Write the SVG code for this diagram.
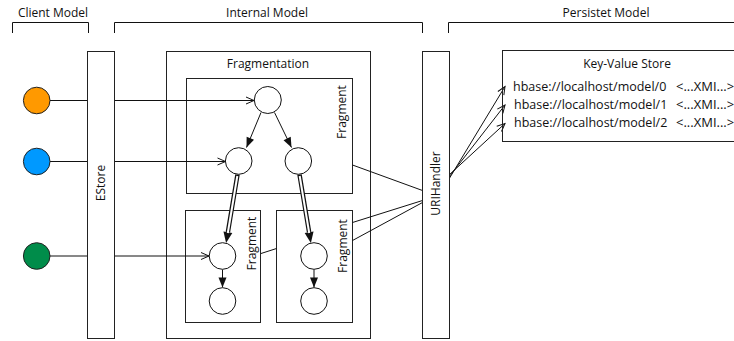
<svg xmlns="http://www.w3.org/2000/svg" width="734" height="341" viewBox="0 0 734 341">
<style>
text{font-family:"Open Sans","DejaVu Sans",sans-serif;font-size:12px;fill:#111}
.c{text-anchor:middle}
.kv{font-size:12.5px}
.xmi{font-size:13px}
.box{fill:none;stroke:#222;stroke-width:1}
.wbox{fill:#fff;stroke:#222;stroke-width:1}
.node{fill:#fff;stroke:#111;stroke-width:1}
.ln{fill:none;stroke:#111;stroke-width:1}
.dbl{fill:none;stroke:#111;stroke-width:4.5}
.dblw{fill:none;stroke:#fff;stroke-width:2}
.br{fill:none;stroke:#111;stroke-width:1}
</style>
<defs>
<marker id="open" markerUnits="userSpaceOnUse" markerWidth="10" markerHeight="10" refX="8" refY="3.5" orient="auto" overflow="visible">
<path d="M0,0 L8,3.5 L0,7" fill="none" stroke="#111" stroke-width="1"/>
</marker>
<marker id="fill" markerUnits="userSpaceOnUse" markerWidth="12" markerHeight="10" refX="10" refY="4" orient="auto" overflow="visible">
<path d="M0,0 L10,4 L0,8 z" fill="#111"/>
</marker>
<marker id="fillb" markerUnits="userSpaceOnUse" markerWidth="12" markerHeight="10" refX="0" refY="4.5" orient="auto" overflow="visible">
<path d="M0,0 L11,4.5 L0,9 z" fill="#111"/>
</marker>
</defs>
<rect width="734" height="341" fill="#fff"/>

<g id="brackets">
<path class="br" d="M12.5,33 V22.5 H88.5 V33"/>
<path class="br" d="M114.5,33 V22.5 H422.5 V33"/>
<path class="br" d="M448.5,33 V22.5 H740"/>
<text class="c" x="53" y="16.5">Client Model</text>
<text class="c" x="267" y="16.5">Internal Model</text>
<text class="c" x="606" y="16.5">Persistet Model</text>
</g>

<g id="fragmentation">
<rect class="box" x="166.5" y="51.5" width="204" height="287"/>
<text class="c" x="268" y="67.5">Fragmentation</text>
</g>
<g id="fragment-top">
<rect class="box" x="186.5" y="78.5" width="166" height="115"/>
<text class="c" transform="rotate(-90 342 112)" x="342" y="116">Fragment</text>
</g>
<g id="fragment-bl">
<rect class="box" x="185.5" y="210.5" width="75" height="112"/>
<text class="c" transform="rotate(-90 251.5 243.5)" x="251.5" y="247.5">Fragment</text>
</g>
<g id="fragment-br">
<rect class="box" x="276.5" y="210.5" width="76" height="112"/>
<text class="c" transform="rotate(-90 342.5 246)" x="342.5" y="250">Fragment</text>
</g>

<g id="connectors">
<line class="ln" x1="50" y1="100.5" x2="254" y2="100.5" marker-end="url(#open)"/>
<line class="ln" x1="50" y1="161.5" x2="225.5" y2="161.5" marker-end="url(#open)"/>
<line class="ln" x1="50" y1="256" x2="209" y2="256" marker-end="url(#open)"/>
<line class="ln" x1="261" y1="112.5" x2="246.5" y2="147.5" marker-end="url(#fill)"/>
<line class="ln" x1="274.5" y1="112.5" x2="291.5" y2="147.5" marker-end="url(#fill)"/>
<line class="dbl" x1="237.5" y1="174.5" x2="227.9" y2="232.2" marker-end="url(#fillb)"/>
<line class="dblw" x1="237.3" y1="176" x2="227.8" y2="233"/>
<line class="dbl" x1="299.5" y1="174.5" x2="309.1" y2="232.2" marker-end="url(#fillb)"/>
<line class="dblw" x1="299.7" y1="176" x2="309.2" y2="233"/>
<line class="ln" x1="222.5" y1="269.5" x2="222.5" y2="287.5" marker-end="url(#fill)"/>
<line class="ln" x1="314" y1="269.5" x2="314" y2="287.5" marker-end="url(#fill)"/>
<line class="ln" x1="261" y1="253.5" x2="276.5" y2="248.5"/>
<line class="ln" x1="352.5" y1="165" x2="422.5" y2="190.5"/>
<line class="ln" x1="352.5" y1="222.5" x2="422.5" y2="200.5"/>
<line class="ln" x1="352.5" y1="240.5" x2="422.5" y2="202.5"/>
<line class="ln" x1="449" y1="179" x2="505" y2="86.5" marker-end="url(#open)"/>
<line class="ln" x1="449" y1="177" x2="505" y2="105" marker-end="url(#open)"/>
<line class="ln" x1="449" y1="175" x2="505" y2="123.5" marker-end="url(#open)"/>
</g>

<g id="orange"><circle cx="36.7" cy="100.5" r="13.3" fill="#FF9900" stroke="#222" stroke-width="1"/></g>
<g id="blue"><circle cx="36.7" cy="161.5" r="13.3" fill="#0099FF" stroke="#222" stroke-width="1"/></g>
<g id="green"><circle cx="36.7" cy="256" r="13.3" fill="#008C4A" stroke="#222" stroke-width="1"/></g>

<g id="estore">
<rect class="wbox" x="87.5" y="51.5" width="27" height="287"/>
<text class="c" transform="rotate(-90 100.7 183)" x="100.7" y="187.3" font-size="12.5">EStore</text>
</g>
<g id="urihandler">
<rect class="wbox" x="422.5" y="51.5" width="27" height="287"/>
<text class="c" transform="rotate(-90 436 183.5)" x="436" y="187.8">URIHandler</text>
</g>

<g id="n-top"><circle class="node" cx="267.8" cy="100" r="13.5"/></g>
<g id="n-ml"><circle class="node" cx="238.7" cy="161" r="13.3"/></g>
<g id="n-mr"><circle class="node" cx="298.3" cy="161" r="13.3"/></g>
<g id="n-bl1"><circle class="node" cx="222.5" cy="256" r="13.3"/></g>
<g id="n-bl2"><circle class="node" cx="222.5" cy="301" r="13.3"/></g>
<g id="n-br1"><circle class="node" cx="314" cy="256" r="13.3"/></g>
<g id="n-br2"><circle class="node" cx="314" cy="301" r="13.3"/></g>

<g id="kvstore">
<rect class="box" x="502.5" y="50.5" width="240" height="91"/>
<text class="c" x="627" y="68.3">Key-Value Store</text>
<text class="kv" x="513" y="90.5">hbase://localhost/model/0</text>
<text class="xmi" x="676" y="90.5">&lt;...XMI...&gt;</text>
<text class="kv" x="514" y="108.5">hbase://localhost/model/1</text>
<text class="xmi" x="676" y="108.5">&lt;...XMI...&gt;</text>
<text class="kv" x="514" y="126.5">hbase://localhost/model/2</text>
<text class="xmi" x="676" y="126.5">&lt;...XMI...&gt;</text>
</g>
</svg>
